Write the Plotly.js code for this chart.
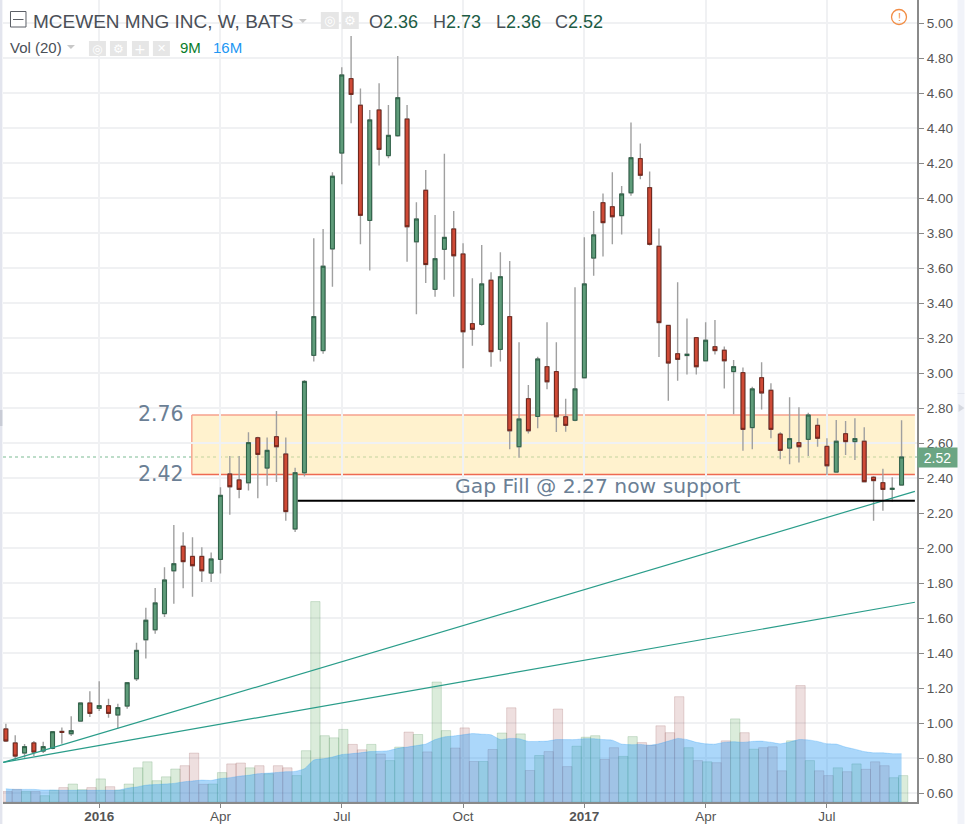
<!DOCTYPE html>
<html>
<head>
<meta charset="utf-8">
<script src="https://cdn.plot.ly/plotly-3.0.1.min.js"></script>
<style>html,body{margin:0;padding:0;background:#fff;overflow:hidden}#chart{width:965px;height:824px}</style>
</head>
<body>
<div id="chart"></div>
<script>
const weeks = [
'2015-10-26','2015-11-02','2015-11-09','2015-11-16','2015-11-23','2015-11-30','2015-12-07','2015-12-14','2015-12-21','2015-12-28',
'2016-01-04','2016-01-11','2016-01-18','2016-01-25','2016-02-01','2016-02-08','2016-02-15','2016-02-22','2016-02-29','2016-03-07',
'2016-03-14','2016-03-21','2016-03-28','2016-04-04','2016-04-11','2016-04-18','2016-04-25','2016-05-02','2016-05-09','2016-05-16',
'2016-05-23','2016-05-30','2016-06-06','2016-06-13','2016-06-20','2016-06-27','2016-07-04','2016-07-11','2016-07-18','2016-07-25',
'2016-08-01','2016-08-08','2016-08-15','2016-08-22','2016-08-29','2016-09-05','2016-09-12','2016-09-19','2016-09-26','2016-10-03',
'2016-10-10','2016-10-17','2016-10-24','2016-10-31','2016-11-07','2016-11-14','2016-11-21','2016-11-28','2016-12-05','2016-12-12',
'2016-12-19','2016-12-26','2017-01-02','2017-01-09','2017-01-16','2017-01-23','2017-01-30','2017-02-06','2017-02-13','2017-02-20',
'2017-02-27','2017-03-06','2017-03-13','2017-03-20','2017-03-27','2017-04-03','2017-04-10','2017-04-17','2017-04-24','2017-05-01',
'2017-05-08','2017-05-15','2017-05-22','2017-05-29','2017-06-05','2017-06-12','2017-06-19','2017-06-26','2017-07-03','2017-07-10',
'2017-07-17','2017-07-24','2017-07-31','2017-08-07','2017-08-14','2017-08-21','2017-08-28'];

const open = [
.966,.886,.829,.886,.84,.855,.952,.939,1.011,1.114,
1.084,1.099,1.046,1.097,1.253,1.476,1.533,1.625,1.87,2.01,
1.952,1.952,1.857,1.935,2.423,2.389,2.373,2.63,2.457,2.636,
2.537,2.109,2.43,3.101,3.128,3.709,4.257,4.682,4.53,3.872,
4.503,4.242,4.356,4.451,3.75,4.044,3.478,3.707,3.823,3.68,
3.282,3.278,3.53,3.135,3.322,2.579,2.853,2.752,3.036,3.008,
2.75,2.73,2.973,3.657,3.973,3.95,3.899,4.03,4.225,4.059,
3.724,3.272,3.11,3.10,3.202,3.07,3.15,3.13,3.008,3.002,
2.688,2.973,2.901,2.651,2.571,2.602,2.621,2.701,2.581,2.434,
2.653,2.608,2.61,2.404,2.373,2.335,2.36];
const high = [
.996,.93,.88,.897,.893,.953,.975,1.038,1.116,1.181,
1.238,1.139,1.11,1.23,1.459,1.659,1.771,1.89,2.131,2.09,
2.061,2.004,1.975,2.347,2.526,2.526,2.661,2.636,2.632,2.783,
2.632,2.459,2.96,3.77,3.823,4.147,4.747,4.926,4.625,4.503,
4.655,4.531,4.811,4.531,3.975,4.16,3.903,4.253,3.926,3.741,
3.541,3.731,3.575,3.69,3.64,3.175,2.931,3.093,3.29,3.175,
2.853,3.49,3.775,3.926,4.025,4.147,4.069,4.432,4.312,4.152,
3.825,3.272,3.518,3.312,3.202,3.29,3.303,3.152,3.074,3.032,
2.922,3.061,2.941,2.661,2.861,2.804,2.773,2.741,2.627,2.731,
2.726,2.741,2.69,2.411,2.453,2.404,2.73];
const low = [
.891,.787,.802,.811,.829,.85,.882,.926,1.01,1.034,
1.069,1.03,.968,1.082,1.24,1.368,1.51,1.606,1.682,1.77,
1.722,1.806,1.806,1.855,2.19,2.284,2.328,2.284,2.356,2.377,
2.156,2.091,2.408,3.065,3.11,3.493,4.078,4.427,3.735,3.585,
4.185,4.227,4.35,3.636,3.335,3.514,3.436,3.533,3.436,3.027,
3.156,3.27,3.036,3.065,2.564,2.516,2.655,2.684,2.907,2.663,
2.665,2.725,2.973,3.556,3.665,3.735,3.792,4.013,4.107,3.728,
3.091,2.842,2.956,2.992,2.992,3.065,3.105,2.912,2.764,2.556,
2.564,2.792,2.627,2.507,2.478,2.488,2.526,2.579,2.417,2.43,
2.531,2.503,2.379,2.156,2.213,2.265,2.36];
const close = [
.897,.811,.865,.834,.865,.95,.947,.956,1.114,1.055,
1.099,1.055,1.088,1.23,1.415,1.587,1.686,1.817,1.91,1.922,
1.899,1.87,1.937,2.301,2.35,2.335,2.602,2.535,2.558,2.579,
2.208,2.43,2.952,3.322,3.61,4.124,4.703,4.592,3.901,4.446,
4.278,4.358,4.573,3.836,3.88,3.62,3.653,3.775,3.67,3.236,
3.25,3.509,3.122,3.55,2.67,2.737,2.67,3.08,2.95,2.75,
2.701,2.909,3.509,3.789,3.859,3.893,4.023,4.23,4.13,3.735,
3.288,3.057,3.078,3.107,3.036,3.187,3.128,3.07,3.036,2.678,
2.909,2.886,2.678,2.558,2.625,2.579,2.76,2.627,2.47,2.61,
2.608,2.625,2.379,2.385,2.335,2.341,2.52];
const volumeM = [
3.5,4.2,3.5,3.5,2.1,3.9,4.8,6,4.1,4.8,
7.7,5.1,4,6,11.4,13.4,7.1,8.4,11,12.1,
16.3,5.9,6,9.8,12.7,13,11.4,12.1,9.4,12.1,
11.4,8.8,17.1,66.8,22.1,21.4,24.2,19.2,17.4,19.2,
16,13.8,18.3,23.3,22.5,16.7,40,23.8,18,24.7,
13.5,13.5,17.5,23,31.4,22.7,10.5,15.5,16.8,31,
11.8,18.6,21.6,22.1,14.2,18.1,15.2,21.8,19.8,18.9,
25.4,23.1,35.1,18.1,13.8,13.4,13.1,20.4,27.7,23.1,
17.6,18.1,18.4,10.4,20.4,38.8,13.8,10.4,8.8,11.4,
10.1,12.7,10.9,13.4,12.1,8.1,8.8];
const volumeAvgM = [
4.4,4.2,4.2,4.2,4,4,3.9,3.9,3.9,3.9,
3.9,3.9,3.9,4.6,5,5.6,5.8,6,6.2,6.7,
7,7.3,7.2,7.8,8.1,8.6,8.9,9.4,9.6,9.8,
10.1,10.2,11.1,14,14.4,15,15.8,16.1,16.4,16.8,
16.9,17.1,17.9,18.3,18.8,19.3,20.8,21.7,22,22.4,
22.8,22.6,22.4,20.8,21.2,21.1,20.2,20.2,20.3,20.8,
20.8,20.8,21.1,21.1,20.8,20.6,19.3,19.1,19.2,18.9,
19.4,20.3,21.2,20.8,19.9,19.4,19.3,19.9,20.1,19.9,
20.2,20.3,19.9,19.4,20,20.8,20.7,20.2,19.4,19.3,
18.3,17.6,16.8,16.4,16.4,16.1,16.1];

const tickDates = ['2016-01-04','2016-04-04','2016-07-04','2016-10-03','2017-01-02','2017-04-03','2017-07-03'];
const tickLabels = ['<b>2016</b>','Apr','Jul','Oct','<b>2017</b>','Apr','Jul'];
const priceTicks = [0.6,0.8,1.0,1.2,1.4,1.6,1.8,2.0,2.2,2.4,2.6,2.8,3.0,3.2,3.4,3.6,3.8,4.0,4.2,4.4,4.6,4.8,5.0];
const trendDates = ['2015-10-24','2017-09-07'];
const trendUpper = [0.775,2.324];
const trendLower = [0.775,1.69];
const zoneStart = '2016-03-13 12:00';
const gapStart = '2016-06-01';
const zoneLow = 2.42, zoneHigh = 2.76, gapFill = 2.27;

const W=965,H=824,L=3,R=917.5,B=802;
const px=x=>(x-L)/(R-L), py=y=>1-y/B;
const FN='"Liberation Sans Narrow","Liberation Sans",sans-serif', FA='"Liberation Sans",Arial,sans-serif', FD='"DejaVu Sans",sans-serif';
const isUp=i=>close[i]>=open[i];
const WEEK_MS=604800000;

const traces=[
 {type:'bar',x:weeks,y:volumeM,xaxis:'x',yaxis:'y',hoverinfo:'skip',width:WEEK_MS,offset:-WEEK_MS/2+WEEK_MS*1.6/9.335,
  marker:{color:weeks.map((_,i)=>isUp(i)?'rgba(76,160,76,0.2)':'rgba(160,80,80,0.18)'),
          line:{color:weeks.map((_,i)=>isUp(i)?'rgba(60,130,70,0.2)':'rgba(140,70,70,0.2)'),width:1}}},
 {type:'scatter',mode:'lines',x:weeks,y:volumeAvgM,xaxis:'x',yaxis:'y',hoverinfo:'skip',fill:'tozeroy',
  fillcolor:'rgba(33,150,243,0.38)',line:{color:'rgba(33,150,243,0.25)',width:1,shape:'spline',smoothing:0.5}},
 {type:'candlestick',x:weeks,open:open,high:high,low:low,close:close,xaxis:'x',yaxis:'y2',hoverinfo:'skip',
  increasing:{line:{color:'#a0a0a0',width:1.4},fillcolor:'rgba(0,0,0,0)'},
  decreasing:{line:{color:'#a0a0a0',width:1.4},fillcolor:'rgba(0,0,0,0)'}},
 {type:'candlestick',x:weeks,open:open,close:close,
  high:open.map((o,i)=>Math.max(o,close[i])),low:open.map((o,i)=>Math.min(o,close[i])),
  xaxis:'x',yaxis:'y2',hoverinfo:'skip',
  increasing:{line:{color:'#2b5f45',width:1},fillcolor:'#5f9c7a'},
  decreasing:{line:{color:'#6f251b',width:1},fillcolor:'#cf4a36'}},
 {type:'scatter',mode:'lines',x:trendDates,y:trendUpper,xaxis:'x',yaxis:'y2',hoverinfo:'skip',line:{color:'#2a9d8a',width:1.2}},
 {type:'scatter',mode:'lines',x:trendDates,y:trendLower,xaxis:'x',yaxis:'y2',hoverinfo:'skip',line:{color:'#2a9d8a',width:1.2}}
];

const rectP=(x0,y0,x1,y1,fill,line)=>({type:'rect',xref:'paper',yref:'paper',x0:px(x0),x1:px(x1),y0:py(y0),y1:py(y1),fillcolor:fill,line:{width:line?1:0,color:line||'rgba(0,0,0,0)'},layer:'above'});
const txt=(x,y,t,size,color,font,anchor)=>({xref:'paper',yref:'paper',x:px(x),y:py(y),text:t,showarrow:false,xanchor:anchor||'left',yanchor:'middle',font:{size:size,color:color,family:font||FN},borderpad:0,borderwidth:0});
const caret=(x,y)=>({type:'path',xref:'paper',yref:'paper',path:`M${px(x-4)},${py(y-2)} L${px(x+4)},${py(y-2)} L${px(x)},${py(y+2)} Z`,fillcolor:'#c8c8c8',line:{width:0}});

const shapes=[
 {type:'rect',xref:'x',yref:'y2',x0:zoneStart,x1:trendDates[1],y0:zoneLow,y1:zoneHigh,fillcolor:'rgba(255,232,165,0.55)',line:{width:0},layer:'below'},
 {type:'line',xref:'x',yref:'y2',x0:zoneStart,x1:trendDates[1],y0:zoneHigh,y1:zoneHigh,line:{color:'#f6a08c',width:1.6},layer:'below'},
 {type:'line',xref:'x',yref:'y2',x0:zoneStart,x1:trendDates[1],y0:zoneLow,y1:zoneLow,line:{color:'#ee6a52',width:1.4},layer:'below'},
 {type:'line',xref:'x',yref:'y2',x0:zoneStart,x1:zoneStart,y0:zoneLow,y1:zoneHigh,line:{color:'#f6a08c',width:1.4},layer:'below'},
 {type:'line',xref:'paper',yref:'y2',x0:0,x1:1,y0:close[close.length-1],y1:close[close.length-1],line:{color:'rgba(90,170,120,0.8)',width:1,dash:'dot'},layer:'below'},
 {type:'line',xref:'x',yref:'y2',x0:gapStart,x1:trendDates[1],y0:gapFill,y1:gapFill,line:{color:'#000',width:2.2},layer:'above'},
 rectP(0,0,2.4,824,'#e3e5ee'), rectP(0,410,2.4,426,'#c9ccd6'),
 rectP(958,0,965,824,'#f1f3f9'), rectP(958,393,965,393.6,'#dcdfe8'),
 {type:'path',xref:'paper',yref:'paper',path:`M${px(959)},${py(404)} L${px(965)},${py(408)} L${px(959)},${py(412)} Z`,fillcolor:'#d5d8e0',line:{width:0}},
 {type:'rect',xref:'paper',yref:'paper',x0:px(10.5),x1:px(26),y0:py(11.5),y1:py(27),fillcolor:'#fff',line:{color:'#5b5f66',width:1}},
 rectP(13,19,23.5,20,'#5b5f66'),
 caret(303,21),
 rectP(321,12,339,29,'#e6e6e6'),rectP(342,12,359,29,'#e6e6e6'),
 caret(71,47),
 rectP(89,41,106,56,'#e6e6e6'),rectP(110,41,127,56,'#e6e6e6'),rectP(132,41,149,56,'#e6e6e6'),rectP(153,41,170,56,'#e6e6e6'),
 {type:'circle',xref:'paper',yref:'paper',x0:px(892),x1:px(907),y0:py(9.5),y1:py(24.5),fillcolor:'rgba(0,0,0,0)',line:{color:'#f28d45',width:1.3}}
];

const numC='#1d5b44', letC='#4a4f57';
const annotations=[
 txt(33,22,'MCEWEN MNG INC, W, BATS',19,'#4a4f57'),
 txt(369,22,`<span style="color:${letC}">O</span>2.36`,18,numC),
 txt(433,22,`<span style="color:${letC}">H</span>2.73`,18,numC),
 txt(496,22,`<span style="color:${letC}">L</span>2.36`,18,numC),
 txt(555,22,`<span style="color:${letC}">C</span>2.52`,18,numC),
 txt(10,47.5,'Vol (20)',15,'#4a4f57'),
 txt(180,47.5,'9M',15,'#0a7d2c'),
 txt(213,47.5,'16M',15,'#2196f3'),
 txt(330,20.5,'◎',13,'#fff',FD,'center'),txt(350.5,20.5,'⚙',13,'#fff',FD,'center'),
 txt(97.5,48.5,'◎',12,'#fff',FD,'center'),txt(118.5,48.5,'⚙',12,'#fff',FD,'center'),
 txt(140.5,48.5,'+',14,'#fff',FD,'center'),txt(161.5,48.5,'✕',11,'#fff',FD,'center'),
 txt(899.5,17,'!',11,'#f28d45',FA,'center'),
 txt(138,414,'2.76',20.5,'#6b7f95',FD),
 txt(138,474,'2.42',20.5,'#6b7f95',FD),
 txt(455,486,'Gap Fill @ 2.27 now support',20.3,'#6b7f95',FD),
 {xref:'paper',yref:'y2',x:px(918),y:close[close.length-1],text:close[close.length-1].toFixed(2),showarrow:false,xanchor:'left',yanchor:'middle',
  bgcolor:'#6ba583',font:{size:14,color:'#fff',family:FA},width:39,height:19,borderpad:0,align:'center'}
];

const layout={
 width:W,height:H,margin:{l:L,r:W-R,t:0,b:H-B,pad:0},paper_bgcolor:'#fff',plot_bgcolor:'#fff',
 showlegend:false,hovermode:false,bargap:0,boxgap:0.42,
 xaxis:{type:'date',range:['2015-10-23 20:00','2017-09-08 14:00'],rangeslider:{visible:false},anchor:'y',
  tickmode:'array',tickvals:tickDates,ticktext:tickLabels,tickfont:{size:13.5,color:'#555',family:FA},ticks:'outside',ticklen:4,tickcolor:'#888',tickangle:0,ticklabelstandoff:-3,
  showgrid:true,gridcolor:'#f0f1f3',gridwidth:2,showline:true,linecolor:'#8a8a8a',linewidth:2,zeroline:false,fixedrange:true},
 yaxis:{visible:false,range:[0,B/3],fixedrange:true},
 yaxis2:{overlaying:'y',side:'right',anchor:'x',range:[0.5486,5.1314],tickmode:'array',tickvals:priceTicks,ticktext:priceTicks.map(v=>v.toFixed(2)),
  tickfont:{size:13.5,color:'#555',family:FA},ticks:'outside',ticklen:5,tickcolor:'#888',showgrid:true,gridcolor:'#f0f1f3',gridwidth:2,
  showline:true,linecolor:'#8a8a8a',linewidth:2,zeroline:false,fixedrange:true},
 shapes:shapes,annotations:annotations
};
Plotly.newPlot('chart',traces,layout,{displayModeBar:false,staticPlot:true});
</script>
</body>
</html>
